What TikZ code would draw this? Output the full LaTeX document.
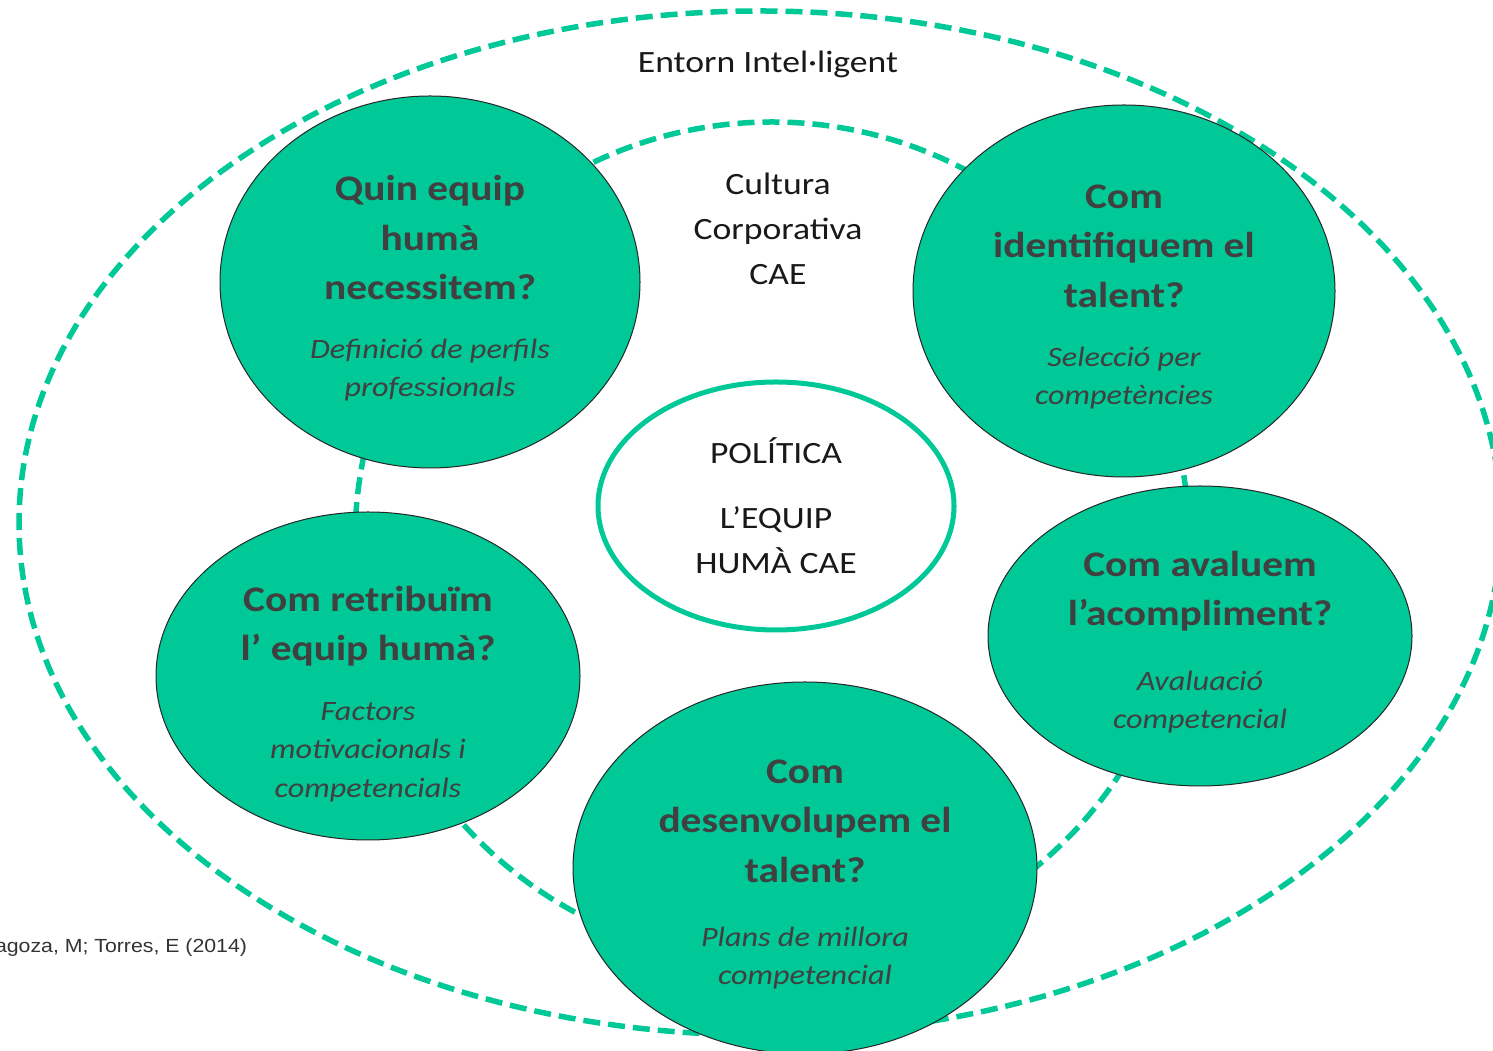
\documentclass[tikz,border=0pt]{standalone}
\usepackage{fontspec}
\setmainfont{Carlito}[FakeStretch=1.15]
\newfontfamily\citefont{Liberation Sans}[FakeStretch=1.12]
\usetikzlibrary{shapes.geometric}
\definecolor{caegreen}{RGB}{0,200,150}
\definecolor{caegray}{RGB}{64,64,64}

\begin{document}
\begin{tikzpicture}[x=1pt,y=1pt,inner sep=0pt,outer sep=0pt,
    envline/.style={draw=caegreen,line width=5.5pt,dash pattern=on 17pt off 8pt},
    bubble/.style={ellipse,draw=black!85,line width=1pt,fill=caegreen},
    qtitle/.style={align=center,text=caegray,font=\fontsize{36}{49.5}\selectfont\bfseries},
    qnote/.style={align=center,text=caegray,font=\fontsize{28}{38.5}\selectfont\itshape},
    plain/.style={align=center,text=black!90,font=\fontsize{31}{45}\selectfont}]
  \useasboundingbox (0,0) rectangle (1493,1051);
  % 
  \draw[envline] (760,528) ellipse [x radius=741, y radius=512];
  \draw[envline] (772,509) ellipse [x radius=417, y radius=420];
  \node[plain] (entorn) at (768,987) {Entorn Intel·ligent};
  \node[plain] (cultura) at (778,822) {Cultura\\Corporativa\\CAE};
  % 
  \node[ellipse,draw=caegreen,line width=5pt,fill=white,minimum width=356,minimum height=248,plain]
    (politica) at (776,545) {POLÍTICA\\[20pt]L’EQUIP\\HUMÀ CAE};
  % 
  \node[bubble,minimum width=420,minimum height=372] (perfils) at (430,769) {};
  \node[qtitle] (perfils_q) at ([yshift=44]perfils.center) {Quin equip\\humà\\necessitem?};
  \node[qnote] (perfils_n) at ([yshift=-88]perfils.center) {Definició de perfils\\professionals};
  % 
  \node[bubble,minimum width=422,minimum height=372] (seleccio) at (1124,760) {};
  \node[qtitle] (seleccio_q) at ([yshift=45]seleccio.center) {Com\\identifiquem el\\talent?};
  \node[qnote] (seleccio_n) at ([yshift=-87]seleccio.center) {Selecció per\\competències};
  % 
  \node[bubble,minimum width=424,minimum height=300] (avaluacio) at (1200,415) {};
  \node[qtitle] (avaluacio_q) at ([yshift=45]avaluacio.center) {Com avaluem\\l’acompliment?};
  \node[qnote] (avaluacio_n) at ([yshift=-66]avaluacio.center) {Avaluació\\competencial};
  % 
  \node[bubble,minimum width=464,minimum height=372] (millora) at (805,183) {};
  \node[qtitle] (millora_q) at ([yshift=47]millora.center) {Com\\desenvolupem el\\talent?};
  \node[qnote] (millora_n) at ([yshift=-90]millora.center) {Plans de millora\\competencial};
  % 
  \node[bubble,minimum width=424,minimum height=328] (retribucio) at (368,375) {};
  \node[qtitle] (retribucio_q) at ([yshift=50]retribucio.center) {Com retribuïm\\l’ equip humà?};
  \node[qnote] (retribucio_n) at ([yshift=-76]retribucio.center) {Factors\\motivacionals i\\competencials};
  % 
  \node[anchor=east,text=black!80,font=\citefont\fontsize{19}{22}\selectfont] (font_ref) at (247,103)
    {agoza, M; Torres, E (2014)};
\end{tikzpicture}
\end{document}
